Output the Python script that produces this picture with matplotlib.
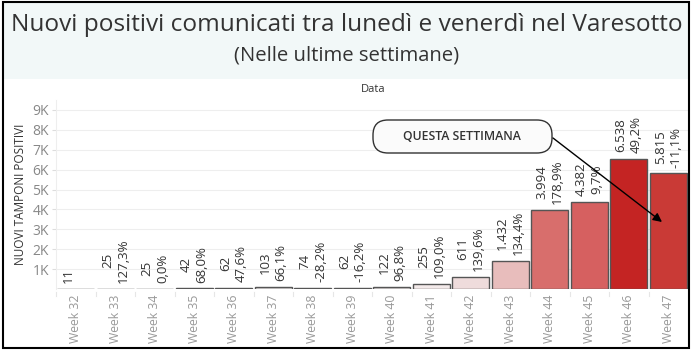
import matplotlib.pyplot as plt
from matplotlib.patches import Rectangle, FancyBboxPatch
from matplotlib.ticker import FuncFormatter

weeks = ["Week 32", "Week 33", "Week 34", "Week 35", "Week 36", "Week 37", "Week 38", "Week 39",
         "Week 40", "Week 41", "Week 42", "Week 43", "Week 44", "Week 45", "Week 46", "Week 47"]
positivi = [11, 25, 25, 42, 62, 103, 74, 62, 122, 255, 611, 1432, 3994, 4382, 6538, 5815]
var_pct = ["", "127,3%", "0,0%", "68,0%", "47,6%", "66,1%", "-28,2%", "-16,2%",
           "96,8%", "109,0%", "139,6%", "134,4%", "178,9%", "9,7%", "49,2%", "-11,1%"]
colori = ["#ffffff", "#ffffff", "#ffffff", "#fbf8f8", "#fbf7f7", "#faf6f6", "#fbf7f7", "#fbf7f7",
          "#f7f1f1", "#f3eaea", "#efdcdc", "#e8bdbc", "#d86e6c", "#d66060", "#c42423", "#c93a36"]

plt.rcParams['font.family'] = ['Open Sans', 'DejaVu Sans']

W, H = 693, 354
fig = plt.figure(figsize=(W / 100, H / 100), dpi=100)

# livello in pixel per sfondo, cornice e annotazione
bg = fig.add_axes([0, 0, 1, 1], zorder=0)
bg.set_xlim(0, W)
bg.set_ylim(H, 0)
bg.axis("off")
bg.add_patch(Rectangle((3, 2), 686, 77, facecolor="#f2f8f8", edgecolor="none"))

fig.text(0.5, 1 - 25 / H, "Nuovi positivi comunicati tra lunedì e venerdì nel Varesotto",
         ha="center", va="center", fontsize=17.6, color="#333333")
fig.text(0.5, 1 - 56 / H, "(Nelle ultime settimane)", ha="center", va="center",
         fontsize=14.6, color="#333333")
fig.text(373 / W, 1 - 90 / H, "Data", ha="center", va="center", fontsize=8, color="#333333")

ax = fig.add_axes([56 / W, 1 - 289 / H, 632 / W, 189 / H], zorder=1)
ax.patch.set_alpha(0)
x = range(len(weeks))
ax.bar(x, positivi, width=0.94, color=colori, edgecolor="#555555", linewidth=1, zorder=3)

for i, (v, p) in enumerate(zip(positivi, var_pct)):
    lab = f"{v:,}".replace(",", ".") + "\n" + p
    ax.text(i, v + 280, lab, rotation=90, ha="center", va="bottom", multialignment="center",
            fontsize=9.5, color="#333333", linespacing=1.25, zorder=4)

ax.set_xlim(-0.5, 15.5)
ax.set_ylim(0, 9500)
ax.set_yticks(range(1000, 10000, 1000))
ax.yaxis.set_major_formatter(FuncFormatter(lambda v, _: f"{int(v / 1000)}K"))
ax.set_xticks(list(x))
ax.set_xticklabels(weeks, rotation=90, fontsize=8.8, color="#999999")
ax.tick_params(axis="y", labelsize=10, labelcolor="#888888", length=3, color="#dddddd", pad=2)
ax.tick_params(axis="x", length=0, pad=4)
ax.grid(axis="y", color="#eeeeee", lw=0.8, zorder=0)
for s in ["top", "right", "bottom"]:
    ax.spines[s].set_visible(False)
ax.spines["left"].set_color("#eeeeee")
ax.set_ylabel("NUOVI TAMPONI POSITIVI", fontsize=8.5, color="#333333", labelpad=4)

# separatori tra le colonne sotto l'asse
for i in range(len(weeks)):
    ax.plot([i - 0.5, i - 0.5], [-150, -350], color="#e6e6e6", lw=0.8, clip_on=False)

# riquadro "questa settimana"
top = fig.add_axes([0, 0, 1, 1], zorder=2)
top.set_xlim(0, W)
top.set_ylim(H, 0)
top.axis("off")
top.add_patch(FancyBboxPatch((373, 120), 179, 33, boxstyle="round,pad=0,rounding_size=15",
                             facecolor="#fbfbfb", edgecolor="#333333", lw=1))
top.text(462, 137, "QUESTA SETTIMANA", ha="center", va="center", fontsize=8.8,
         color="#333333", fontweight="semibold")
top.annotate("", xy=(662, 222), xytext=(553, 138),
             arrowprops=dict(arrowstyle="-|>", color="black", lw=1,
                             mutation_scale=13, shrinkA=0, shrinkB=0))
top.add_patch(Rectangle((3, 2), 686, 346, facecolor="none", edgecolor="black", lw=1.5))

fig.savefig("out.png", dpi=100)
